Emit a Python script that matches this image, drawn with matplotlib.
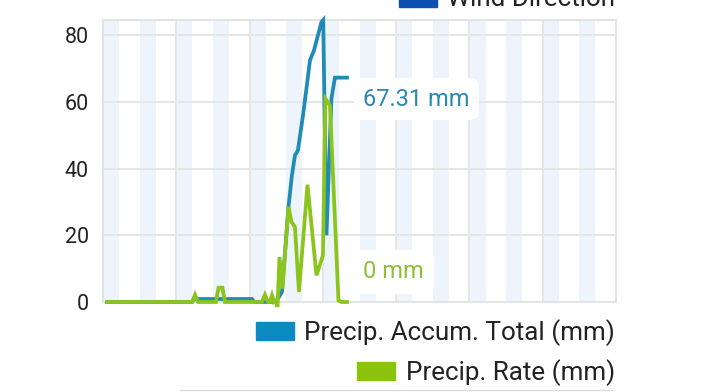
import numpy as np
import matplotlib
matplotlib.use('Agg')
import matplotlib.pyplot as plt
from matplotlib.patches import Patch
from matplotlib.lines import Line2D

plt.rcParams['font.family'] = ['Roboto', 'DejaVu Sans']

# --- data (x in grid units, 7 grid intervals across the plot) ---
rate_x = [0.055, 1.214, 1.255, 1.296, 1.542, 1.576, 1.630, 1.664, 2.169, 2.210,
          2.251, 2.278, 2.306, 2.333, 2.360, 2.381, 2.408, 2.449, 2.531, 2.572,
          2.619, 2.674, 2.790, 2.913, 3.001, 3.035, 3.097, 3.213, 3.254, 3.329]
rate_y = [0, 0, 2.2, 0, 0, 4.3, 4.3, 0, 0, 2.2,
          0, 0, 2, 0, 0.5, -1.5, 13.5, 4, 28.6, 24,
          22.5, 3, 35.2, 8, 14, 61, 59, 0.5, 0, 0]

accum_x = [0.055, 1.214, 1.241, 2.033, 2.060, 2.360, 2.442, 2.531, 2.578, 2.619,
           2.660, 2.729, 2.770, 2.824, 2.879, 2.981, 3.005, 3.049, 3.117, 3.165, 3.329]
accum_y = [0, 0, 0.9, 0.9, 0, 0, 3, 28.6, 38, 44,
           45.5, 56, 63, 72.5, 75.5, 84, 84.6, 20, 61, 67.31, 67.31]

yticks = [0, 20, 40, 60, 80]

blue = '#1f8bb6'
green = '#8cc41e'

fig = plt.figure(figsize=(7.2, 3.92), dpi=100)
ax = fig.add_axes([103/720, 1 - 302/392, 513/720, 282/392])

# alternating light bands
for k in np.arange(0, 7, 0.5):
    ax.axvspan(k, k + 0.22, color='#edf4fb', lw=0, zorder=0)

ax.plot(accum_x, accum_y, color=blue, lw=2.7, zorder=3, clip_on=False,
        solid_joinstyle='miter')
ax.plot(rate_x, rate_y, color=green, lw=2.7, zorder=4, clip_on=False,
        solid_joinstyle='miter')

ax.set_xlim(0, 7)
ax.set_ylim(0, 84.6)
ax.set_yticks(yticks)
ax.set_xticks(range(1, 7))
ax.tick_params(axis='x', length=0, labelbottom=False)
ax.tick_params(axis='y', length=0, pad=10, labelsize=15.5, labelcolor='#222222')
ax.grid(True, color='#e6e6e6', lw=1.4, zorder=1)
ax.set_axisbelow(True)
for s in ax.spines.values():
    s.set_color('#e3e3e3')
    s.set_linewidth(1.4)

# end value labels
ax.text(3.547, 60.9, f'{accum_y[-1]:.2f} mm', color='#2a89b0', fontsize=17,
        va='center', ha='left', zorder=5,
        bbox=dict(boxstyle='round,pad=0.4', fc='white', ec='none'))
ax.text(3.547, 9, f'{rate_y[-1]:.0f} mm', color='#8fbf3a', fontsize=17,
        va='center', ha='left', zorder=5,
        bbox=dict(boxstyle='round,pad=0.45', fc='white', ec='none'))

# legends, one entry per row, right aligned
entries = [('Wind Direction', '#0d4fb0', 1 + 0.5/392),
           ('Precip. Accum. Total (mm)', '#0b8bc2', 1 - 332.5/392),
           ('Precip. Rate (mm)', '#8bc30e', 1 - 372.5/392)]
for label, col, ypos in entries:
    fig.legend(handles=[Patch(color=col)], labels=[label], loc='center right',
               bbox_to_anchor=(615/720, ypos), frameon=False, fontsize=18.7,
               handlelength=1.46, handleheight=0.73, handletextpad=0.4,
               borderpad=0, borderaxespad=0, labelcolor='#222222')

fig.add_artist(Line2D([180/720, 612/720], [2/392, 2/392], color='#dcdcdc', lw=1))

fig.savefig('out.png', dpi=100)
